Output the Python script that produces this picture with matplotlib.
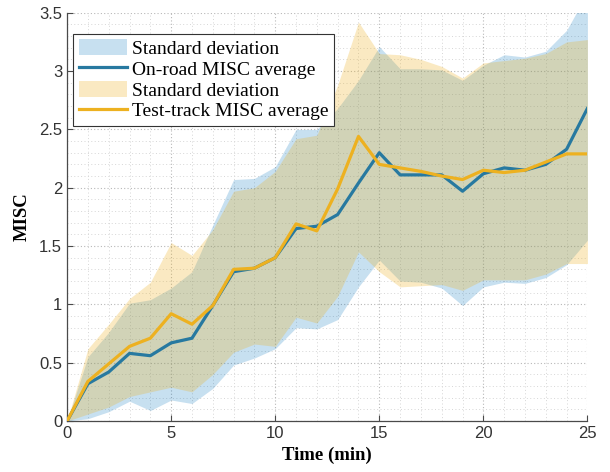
import matplotlib
matplotlib.use("Agg")
import matplotlib.pyplot as plt
from matplotlib.ticker import MultipleLocator, FuncFormatter
import numpy as np

time_min = list(range(0, 26))

onroad_avg = [0.00, 0.32, 0.42, 0.58, 0.56, 0.67, 0.71, 0.99, 1.28, 1.31, 1.40, 1.65, 1.67,
              1.77, 2.04, 2.30, 2.11, 2.11, 2.11, 1.97, 2.12, 2.17, 2.15, 2.20, 2.33, 2.68]
onroad_upper = [0.00, 0.55, 0.76, 1.01, 1.04, 1.14, 1.28, 1.68, 2.07, 2.08, 2.18, 2.50, 2.50,
                2.68, 2.92, 3.21, 3.02, 3.02, 3.01, 2.92, 3.05, 3.14, 3.12, 3.17, 3.35, 3.67]
onroad_lower = [0.00, 0.02, 0.08, 0.17, 0.09, 0.18, 0.15, 0.28, 0.48, 0.54, 0.62, 0.80, 0.79,
                0.87, 1.15, 1.38, 1.20, 1.19, 1.14, 0.99, 1.15, 1.19, 1.18, 1.23, 1.34, 1.55]

track_avg = [0.00, 0.34, 0.49, 0.64, 0.71, 0.92, 0.83, 0.99, 1.30, 1.31, 1.40, 1.69, 1.63,
             1.99, 2.44, 2.20, 2.17, 2.14, 2.10, 2.07, 2.15, 2.13, 2.15, 2.22, 2.29, 2.29]
track_upper = [0.00, 0.62, 0.83, 1.05, 1.19, 1.53, 1.42, 1.64, 1.97, 2.00, 2.14, 2.42, 2.45,
               2.88, 3.42, 3.15, 3.14, 3.10, 3.04, 2.94, 3.07, 3.09, 3.11, 3.15, 3.25, 3.27]
track_lower = [0.00, 0.06, 0.12, 0.21, 0.25, 0.29, 0.25, 0.40, 0.59, 0.66, 0.64, 0.89, 0.84,
               1.07, 1.45, 1.28, 1.15, 1.16, 1.17, 1.12, 1.21, 1.21, 1.21, 1.26, 1.35, 1.35]

legend_labels = ["Standard deviation", "On-road MISC average",
                 "Standard deviation", "Test-track MISC average"]

blue_line = "#2779A0"
orange_line = "#EDB120"

fig = plt.figure(figsize=(6.10, 4.72), dpi=100)
ax = fig.add_axes([0.110, 0.108, 0.853, 0.865])

f1 = ax.fill_between(time_min, onroad_lower, onroad_upper, color="#0072BD", alpha=0.22,
                     linewidth=0, zorder=1)
l1, = ax.plot(time_min, onroad_avg, color=blue_line, linewidth=2.3, zorder=3)
f2 = ax.fill_between(time_min, track_lower, track_upper, color="#EDB120", alpha=0.27,
                     linewidth=0, zorder=2)
l2, = ax.plot(time_min, track_avg, color=orange_line, linewidth=2.3, zorder=4)

ax.set_xlim(0, 25)
ax.set_ylim(0, 3.5)
ax.xaxis.set_major_locator(MultipleLocator(5))
ax.xaxis.set_minor_locator(MultipleLocator(1))
ax.yaxis.set_major_locator(MultipleLocator(0.5))
ax.yaxis.set_minor_locator(MultipleLocator(0.1))
ax.yaxis.set_major_formatter(FuncFormatter(lambda v, p: f"{v:g}"))

ax.grid(True, which="major", linestyle=(0, (1, 2)), color="#b8b8b8", linewidth=0.8, zorder=0)
ax.grid(True, which="minor", linestyle=(0, (1, 2.5)), color="#d6d6d6", linewidth=0.7, zorder=0)
ax.set_axisbelow(True)

for s in ["top", "right"]:
    ax.spines[s].set_visible(False)
for s in ["left", "bottom"]:
    ax.spines[s].set_color("#4a4a4a")
    ax.spines[s].set_linewidth(0.9)

ax.tick_params(which="major", direction="in", length=4, width=0.8, colors="#4a4a4a",
               labelsize=12, labelcolor="#333333")
ax.tick_params(which="minor", length=0)
for lab in ax.get_xticklabels() + ax.get_yticklabels():
    lab.set_fontfamily("Liberation Sans")

ax.set_xlabel("Time (min)", fontfamily="Liberation Serif", fontweight="bold", fontsize=13.5,
              labelpad=4)
ax.set_ylabel("MISC", fontfamily="Liberation Serif", fontweight="bold", fontsize=13.5,
              labelpad=6)

leg = ax.legend([f1, l1, f2, l2], legend_labels, loc="upper left",
                bbox_to_anchor=(0.012, 0.948), prop={"family": "Liberation Serif", "size": 14},
                frameon=True, fancybox=False, framealpha=1, edgecolor="#333333",
                handlelength=2.5, handleheight=0.85, labelspacing=0.12, borderpad=0.28,
                handletextpad=0.25, borderaxespad=0)
leg.get_frame().set_linewidth(0.8)

fig.savefig("out.png", dpi=100)
